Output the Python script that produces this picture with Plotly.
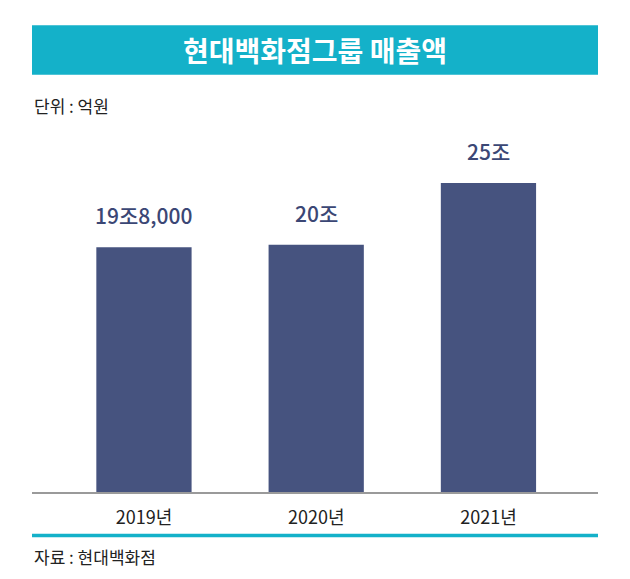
import plotly.graph_objects as go

years = ['2019년', '2020년', '2021년']
sales = [198000, 200000, 250000]  # 억원
sales_labels = ['19조8,000', '20조', '25조']

title = '현대백화점그룹 매출액'
unit_note = '단위 : 억원'
source_note = '자료 : 현대백화점'

W, H = 630, 579
OFF = 8  # page body margin
BASE = 492.3  # pixel row of the baseline
TOP = 145.5   # pixel row of the plot top
plot_h = BASE - TOP
FONT = 'Noto Sans CJK KR'
TEAL = '#14b1c9'
NAVY = '#46537f'


def py(pix):
    # pixel row -> paper y
    return (BASE - pix) / plot_h


fig = go.Figure()
fig.add_trace(go.Bar(x=years, y=sales, marker=dict(color=NAVY, line=dict(width=0)),
                     width=0.553, hoverinfo='skip'))

for yr, v, lab in zip(years, sales, sales_labels):
    fig.add_annotation(x=yr, y=v, text=lab, showarrow=False, yanchor='bottom', yshift=15,
                       font=dict(family=FONT, size=21, color='#3b4775', weight=500))

# title banner
fig.add_shape(type='rect', xref='paper', yref='paper', x0=0, x1=1, y0=py(74), y1=py(24.5),
              fillcolor=TEAL, line=dict(width=0), layer='below')
fig.add_annotation(xref='paper', yref='paper', x=0.5, y=py(49), text='<b>' + title + '</b>',
                   showarrow=False, xanchor='center', yanchor='middle',
                   font=dict(family=FONT, size=28, color='white'))
fig.add_annotation(xref='paper', yref='paper', x=0, y=py(105), text=unit_note,
                   showarrow=False, xanchor='left', yanchor='middle',
                   font=dict(family=FONT, size=17, color='#222222'))

# bottom teal rule and source
fig.add_shape(type='line', xref='paper', yref='paper', x0=0, x1=1, y0=py(536), y1=py(536),
              line=dict(color=TEAL, width=3.5))
fig.add_annotation(xref='paper', yref='paper', x=0, y=py(557), text=source_note,
                   showarrow=False, xanchor='left', yanchor='middle',
                   font=dict(family=FONT, size=17, color='#222222'))

fig.update_layout(
    width=W, height=H,
    margin=dict(l=32 - OFF, r=32 + OFF, t=TOP - OFF, b=H - BASE + OFF),
    paper_bgcolor='white', plot_bgcolor='white',
    showlegend=False,
    xaxis=dict(range=[-0.65, 2.636], showline=True, linecolor='#9a9a9a', linewidth=1.5,
               showgrid=False, ticks='', ticklabelstandoff=9,
               tickfont=dict(family=FONT, size=18, color='#222222')),
    yaxis=dict(range=[0, 280000], visible=False, showgrid=False, zeroline=False),
)

fig.write_html('out.html')
